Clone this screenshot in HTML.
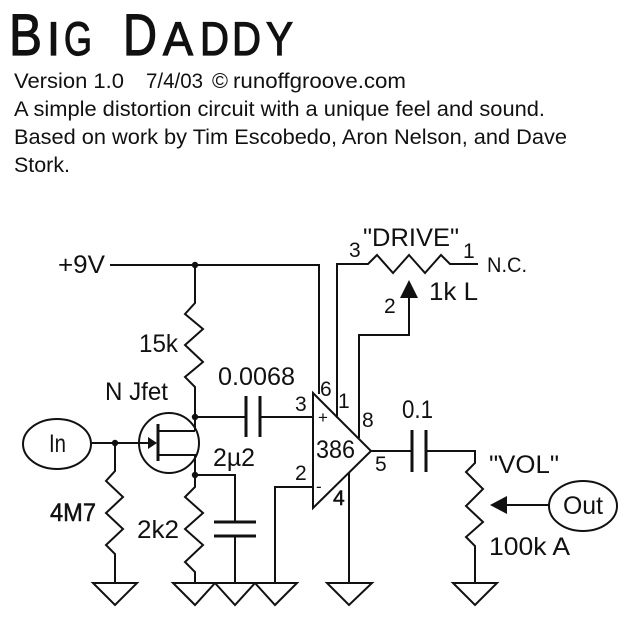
<!DOCTYPE html>
<html><head><meta charset="utf-8">
<style>
html,body{margin:0;padding:0;background:#fff;width:636px;height:620px;overflow:hidden}
svg{display:block;filter:blur(.35px)}
text{font-family:"Liberation Sans",sans-serif;fill:#111}
.w{fill:none;stroke:#111;stroke-width:2;stroke-linejoin:miter}
.p{fill:none;stroke:#111;stroke-width:3}
.f{fill:#111;stroke:none}
.t{font-size:47px;font-weight:400}
.b{font-size:21.5px}
.l{font-size:25px}
.n{font-size:21px}
</style></head><body>
<svg width="636" height="620" viewBox="0 0 636 620" xmlns="http://www.w3.org/2000/svg">
<rect width="636" height="620" fill="#fff"/>
<!-- title -->
<g stroke="#111" stroke-width="1.2">
<text x="9" y="55" style="font-size:58px" textLength="33" lengthAdjust="spacingAndGlyphs">B</text>
<text x="47" y="55" class="t" textLength="13" lengthAdjust="spacingAndGlyphs">I</text>
<text x="64" y="55" class="t" textLength="28" lengthAdjust="spacingAndGlyphs">G</text>
<text x="123" y="55" style="font-size:58px" textLength="34" lengthAdjust="spacingAndGlyphs">D</text>
<text x="163" y="55" class="t" textLength="30" lengthAdjust="spacingAndGlyphs">A</text>
<text x="200" y="55" class="t" textLength="29" lengthAdjust="spacingAndGlyphs">D</text>
<text x="232" y="55" class="t" textLength="29" lengthAdjust="spacingAndGlyphs">D</text>
<text x="266" y="55" class="t" textLength="27" lengthAdjust="spacingAndGlyphs">Y</text>
</g>
<text x="14" y="88" class="b" textLength="110" lengthAdjust="spacingAndGlyphs">Version 1.0</text>
<text x="146" y="88" class="b" textLength="57" lengthAdjust="spacingAndGlyphs">7/4/03</text>
<text x="212" y="88" class="b" textLength="16" lengthAdjust="spacingAndGlyphs">©</text>
<text x="233" y="88" class="b" textLength="173" lengthAdjust="spacingAndGlyphs">runoffgroove.com</text>
<text x="14" y="116" class="b" textLength="531" lengthAdjust="spacingAndGlyphs">A simple distortion circuit with a unique feel and sound.</text>
<text x="14" y="144" class="b" textLength="553" lengthAdjust="spacingAndGlyphs">Based on work by Tim Escobedo, Aron Nelson, and Dave</text>
<text x="14" y="172" class="b" textLength="56" lengthAdjust="spacingAndGlyphs">Stork.</text>

<!-- wires -->
<path class="w" d="M110 265H319V394"/>
<path class="w" d="M195 265V303L185 314L203 329L185 345L203 362L185 377L195 387V431"/>
<path class="w" d="M195 417H246M260 417H313"/>
<path class="w" d="M313 393L371 451L313 508Z"/>
<path class="w" d="M337 418V264H368L377 255L393 273L409 255L425 273L441 255L450 264H478"/>
<path class="w" d="M359 438V335H409V295"/>
<path class="w" d="M313 487H275V583"/>
<path class="w" d="M349 473V583"/>
<path class="w" d="M371 451H412M426 451H475V463L466 472L483 489L466 506L483 522L466 537L475 546V583"/>
<path class="w" d="M505 505H549"/>
<path class="w" d="M92 443H150"/>
<path class="w" d="M115 443V471L106 481L123 497L106 513L123 529L106 545L115 554V583"/>
<path class="w" d="M158 431H195M158 455H195V487L185 497L203 513L185 529L203 545L185 562L195 572V583"/>
<path class="w" d="M195 475H235V522M235 536V583"/>
<!-- plates -->
<path class="p" d="M246 396V437M260 396V437M412 430V472M426 430V472M214 522H256M214 536H256M158 424V461"/>
<!-- arrows & dots -->
<path class="f" d="M409 280L418 298H400Z"/>
<path class="f" d="M490 505L507 496V514Z"/>
<path class="f" d="M157 443L148 437V449Z"/>
<circle class="f" cx="195" cy="265" r="3.2"/>
<circle class="f" cx="195" cy="417" r="3.2"/>
<circle class="f" cx="195" cy="475" r="3.2"/>
<circle class="f" cx="115" cy="443" r="3.2"/>
<!-- ellipses/circle -->
<ellipse class="w" cx="57" cy="444" rx="34" ry="25"/>
<ellipse class="w" cx="583" cy="506" rx="34" ry="25"/>
<circle class="w" cx="169" cy="443" r="30"/>
<!-- grounds -->
<path class="w" d="M93 583H137L115 605Z"/>
<path class="w" d="M173 583H215L195 605Z"/>
<path class="w" d="M215 583H255L235 605Z"/>
<path class="w" d="M255 583H297L275 605Z"/>
<path class="w" d="M327 583H372L349 605Z"/>
<path class="w" d="M453 583H497L475 605Z"/>
<!-- labels -->
<text x="58" y="273" class="l" textLength="47" lengthAdjust="spacingAndGlyphs">+9V</text>
<text x="139" y="352" class="l" textLength="39" lengthAdjust="spacingAndGlyphs">15k</text>
<text x="218" y="385" class="l" textLength="77" lengthAdjust="spacingAndGlyphs">0.0068</text>
<text x="105" y="400" class="l" textLength="63" lengthAdjust="spacingAndGlyphs">N Jfet</text>
<text x="213" y="466" class="l" textLength="42" lengthAdjust="spacingAndGlyphs">2µ2</text>
<text x="50" y="521" class="l" textLength="46" lengthAdjust="spacingAndGlyphs" stroke="#111" stroke-width=".5">4M7</text>
<text x="137" y="538" class="l" textLength="42" lengthAdjust="spacingAndGlyphs">2k2</text>
<text x="49" y="452" class="l" textLength="17" lengthAdjust="spacingAndGlyphs">In</text>
<text x="563" y="514" class="l" textLength="40" lengthAdjust="spacingAndGlyphs">Out</text>
<text x="316" y="458" class="l" textLength="39" lengthAdjust="spacingAndGlyphs">386</text>
<text x="402" y="418" class="l" textLength="31" lengthAdjust="spacingAndGlyphs">0.1</text>
<text x="489" y="473" class="l" textLength="70" lengthAdjust="spacingAndGlyphs">"VOL"</text>
<text x="489" y="555" class="l" textLength="81" lengthAdjust="spacingAndGlyphs">100k A</text>
<text x="363" y="246" class="l" textLength="96" lengthAdjust="spacingAndGlyphs">"DRIVE"</text>
<text x="429" y="300" class="l" textLength="49" lengthAdjust="spacingAndGlyphs">1k L</text>
<text x="487" y="272" style="font-size:21px" textLength="40" lengthAdjust="spacingAndGlyphs">N.C.</text>
<text x="295" y="411" class="n">3</text>
<text x="295" y="480" class="n">2</text>
<text x="320" y="396" class="n">6</text>
<text x="338" y="408" class="n">1</text>
<text x="362" y="427" class="n">8</text>
<text x="375" y="471" class="n">5</text>
<text x="333" y="505" class="n" stroke="#111" stroke-width=".5">4</text>
<text x="349" y="257" class="n">3</text>
<text x="463" y="258" class="n">1</text>
<text x="384" y="313" class="n">2</text>
<text x="318" y="423" style="font-size:17px">+</text>
<text x="316" y="492" style="font-size:17px">-</text>
</svg>
</body></html>
